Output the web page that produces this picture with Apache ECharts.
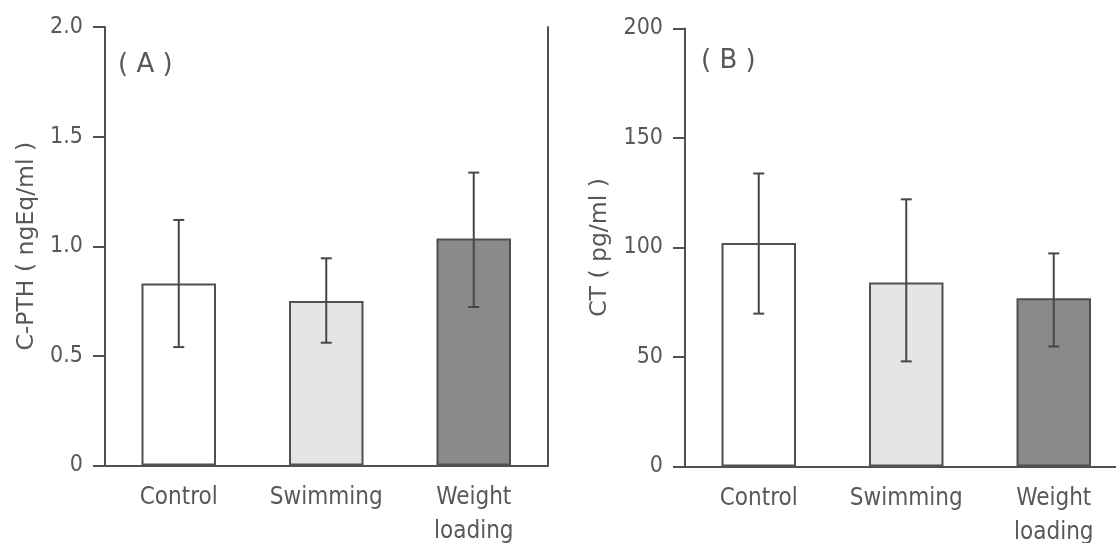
<!DOCTYPE html>
<html>
<head>
<meta charset="utf-8">
<title>C-PTH and CT</title>
<script src="https://cdn.jsdelivr.net/npm/echarts@6/dist/echarts.min.js"></script>
<style>
  html, body { margin: 0; padding: 0; background: #fff; }
  #main { width: 1116px; height: 543px; }
</style>
</head>
<body>
<div id="main"></div>
<script>
// groups
var groups = ['Control', 'Swimming', 'Weight\nloading'];

// (A) C-PTH, ngEq/ml : mean and error bar ends
var pthMean = [0.83, 0.75, 1.035];
var pthLow = [0.54, 0.56, 0.723];
var pthHigh = [1.12, 0.945, 1.336];
var pthTicks = [0, 0.5, 1.0, 1.5, 2.0];

// (B) CT, pg/ml
var ctMean = [102, 84, 76.8];
var ctLow = [69.8, 48, 54.8];
var ctHigh = [133.8, 122, 97.3];
var ctTicks = [0, 50, 100, 150, 200];

var barFills = ['#ffffff', '#e5e5e5', '#8a8a8a'];
var ink = '#505050';
var textInk = '#585858';
var fontFamily = '"DejaVu Sans Condensed", "DejaVu Sans"';

function barData(vals) {
  var out = [];
  for (var i = 0; i < vals.length; i++) {
    out.push({ value: vals[i], itemStyle: { color: barFills[i] } });
  }
  return out;
}

function errData(lo, hi) {
  var out = [];
  for (var i = 0; i < lo.length; i++) {
    out.push([i, lo[i], hi[i]]);
  }
  return out;
}

function errRender(params, api) {
  var x = api.value(0);
  var lo = api.coord([x, api.value(1)]);
  var hi = api.coord([x, api.value(2)]);
  var half = 5.5;
  var st = { stroke: '#474747', lineWidth: 2 };
  return {
    type: 'group',
    children: [
      { type: 'line', shape: { x1: lo[0], y1: lo[1], x2: hi[0], y2: hi[1] }, style: st },
      { type: 'line', shape: { x1: hi[0] - half, y1: hi[1], x2: hi[0] + half, y2: hi[1] }, style: st },
      { type: 'line', shape: { x1: lo[0] - half, y1: lo[1], x2: lo[0] + half, y2: lo[1] }, style: st }
    ]
  };
}

function catAxis(gridIndex, pos, show) {
  return {
    type: 'category',
    gridIndex: gridIndex,
    position: pos,
    data: groups,
    axisLine: { show: true, lineStyle: { color: ink, width: 2 } },
    axisTick: { show: false },
    axisLabel: {
      show: show,
      interval: 0,
      hideOverlap: false,
      margin: 15,
      color: textInk,
      fontFamily: fontFamily,
      fontSize: 24,
      lineHeight: 34
    },
    splitLine: { show: false }
  };
}

function valAxis(gridIndex, ticks, name, nameGap, fmt) {
  return {
    type: 'value',
    gridIndex: gridIndex,
    position: 'left',
    min: ticks[0],
    max: ticks[ticks.length - 1],
    interval: ticks[1] - ticks[0],
    name: name,
    nameLocation: 'middle',
    nameGap: nameGap,
    nameTextStyle: { color: textInk, fontFamily: 'DejaVu Sans', fontSize: 23.5 },
    axisLine: { show: true, lineStyle: { color: ink, width: 2 } },
    axisTick: { show: true, inside: false, length: 12, lineStyle: { color: ink, width: 2 } },
    axisLabel: { margin: 22, color: textInk, fontFamily: fontFamily, fontSize: 23, formatter: fmt },
    splitLine: { show: false }
  };
}

function frameAxis(gridIndex, ticks) {
  return {
    type: 'value',
    gridIndex: gridIndex,
    position: 'right',
    min: ticks[0],
    max: ticks[ticks.length - 1],
    interval: ticks[1] - ticks[0],
    axisLine: { show: true, lineStyle: { color: ink, width: 2 } },
    axisTick: { show: false },
    axisLabel: { show: false },
    splitLine: { show: false }
  };
}

var barStyle = { borderColor: ink, borderWidth: 2 };

var option = {
  backgroundColor: '#ffffff',
  animation: false,
  grid: [
    { left: 105, top: 27, width: 442.5, height: 438.5, outerBoundsMode: 'none', containLabel: false },
    { left: 685, top: 28.5, width: 442.5, height: 438, outerBoundsMode: 'none', containLabel: false }
  ],
  xAxis: [
    catAxis(0, 'bottom', true),
    catAxis(0, 'top', false),
    catAxis(1, 'bottom', true),
    catAxis(1, 'top', false)
  ],
  yAxis: [
    valAxis(0, pthTicks, 'C-PTH ( ngEq/ml )', 66, function (v) {
      return v === 0 ? '0' : v.toFixed(1);
    }),
    frameAxis(0, pthTicks),
    valAxis(1, ctTicks, 'CT ( pg/ml )', 73, function (v) {
      return String(v);
    }),
    frameAxis(1, ctTicks)
  ],
  graphic: [
    { type: 'text', left: 118, top: 52, style: { text: '( A )', font: '26px "DejaVu Sans"', fill: textInk } },
    { type: 'text', left: 701, top: 48, style: { text: '( B )', font: '26px "DejaVu Sans"', fill: textInk } }
  ],
  series: [
    {
      type: 'bar', xAxisIndex: 0, yAxisIndex: 0,
      barWidth: '50.5%',
      itemStyle: barStyle,
      data: barData(pthMean)
    },
    {
      type: 'custom', xAxisIndex: 0, yAxisIndex: 0,
      renderItem: errRender,
      encode: { x: 0, y: [1, 2] },
      z: 5,
      data: errData(pthLow, pthHigh)
    },
    {
      type: 'bar', xAxisIndex: 2, yAxisIndex: 2,
      barWidth: '50.5%',
      itemStyle: barStyle,
      data: barData(ctMean)
    },
    {
      type: 'custom', xAxisIndex: 2, yAxisIndex: 2,
      renderItem: errRender,
      encode: { x: 0, y: [1, 2] },
      z: 5,
      data: errData(ctLow, ctHigh)
    }
  ]
};

var myChart = echarts.init(document.getElementById('main'), null, { renderer: 'canvas' });
myChart.setOption(option);
</script>
</body>
</html>
